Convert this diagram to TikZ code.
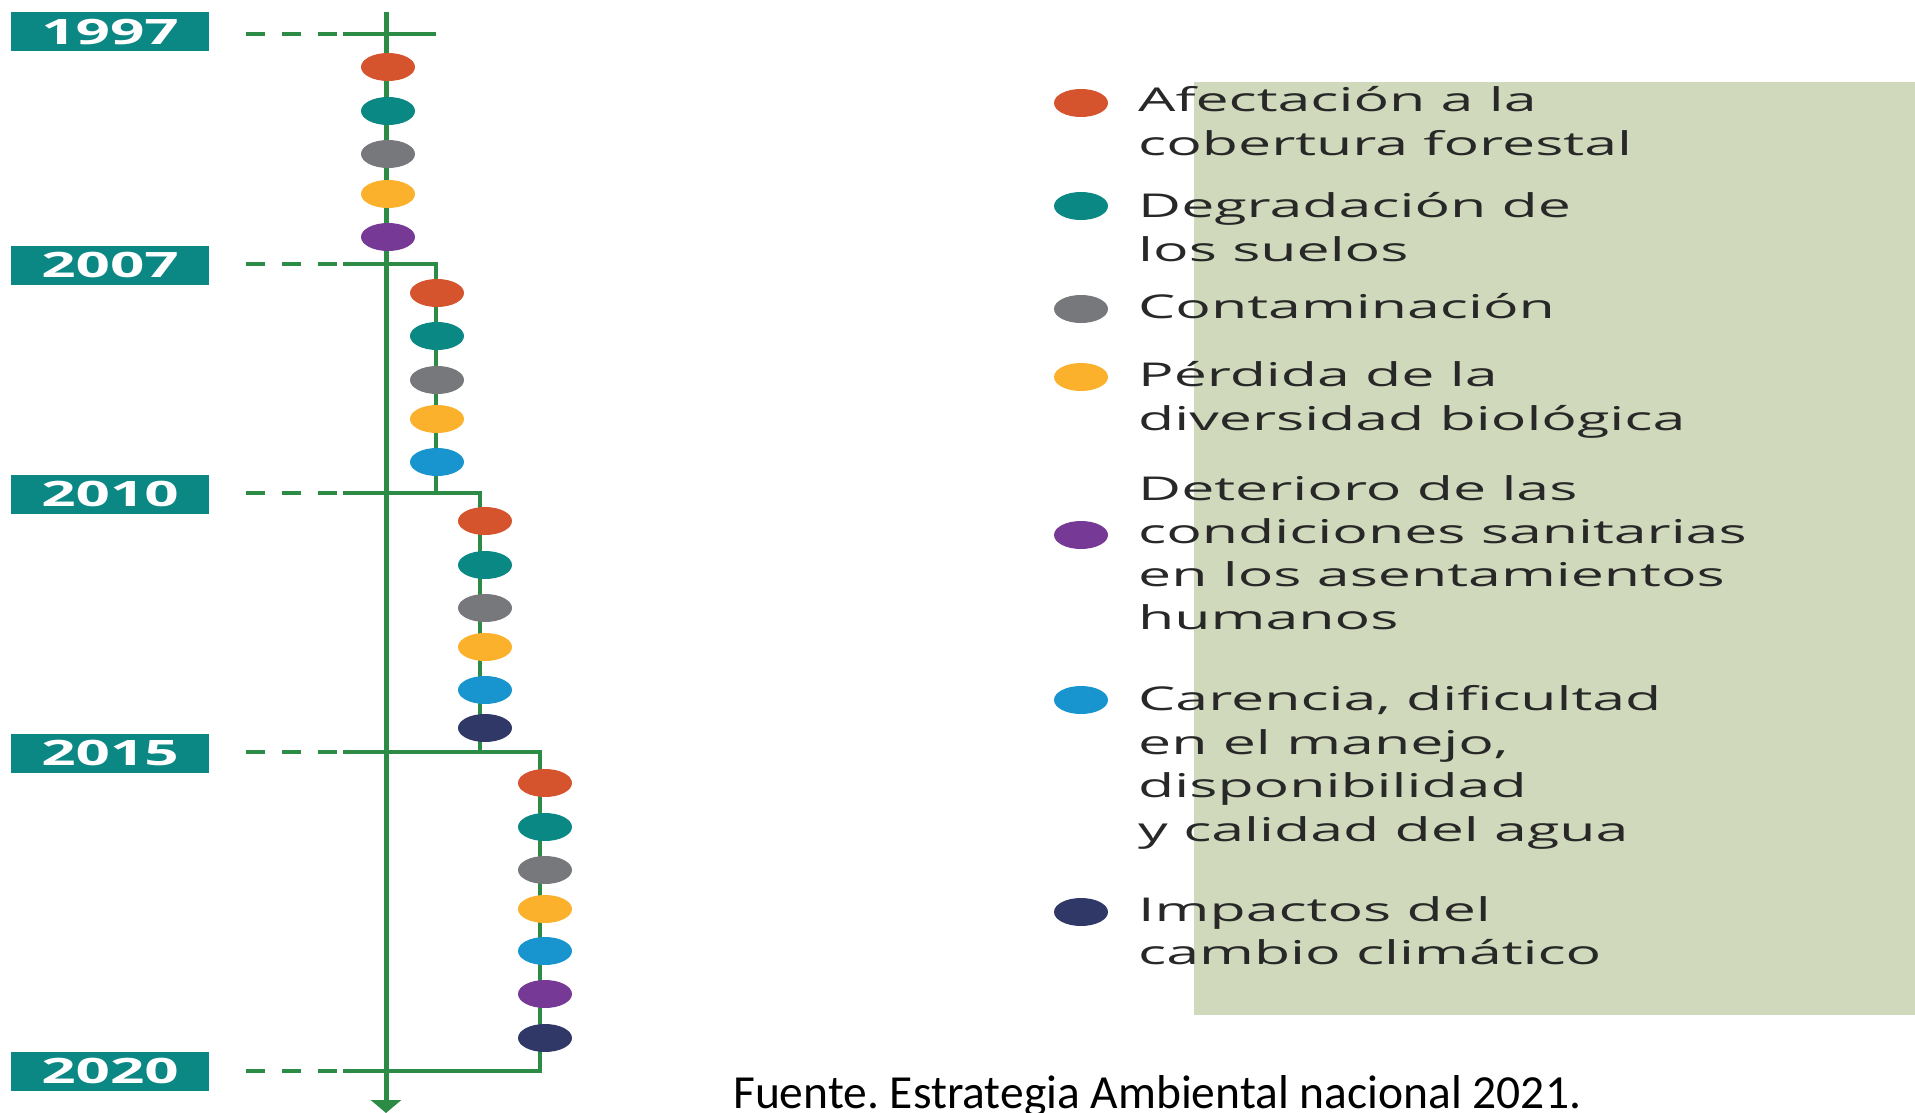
\documentclass[tikz,border=0pt]{standalone}
\usepackage{fontspec}
\usetikzlibrary{shapes.geometric,arrows.meta}
\newfontfamily\legfont[FakeStretch=1.8]{Open Sans}
\newfontfamily\yrfont[FakeStretch=1.72]{Open Sans}
\newfontfamily\srcfont{Carlito}
\definecolor{tlgreen}{RGB}{44,140,70}
\definecolor{boxteal}{RGB}{11,135,132}
\definecolor{cRed}{RGB}{213,83,45}
\definecolor{cTeal}{RGB}{10,136,132}
\definecolor{cGray}{RGB}{119,120,123}
\definecolor{cYellow}{RGB}{251,177,43}
\definecolor{cPurple}{RGB}{118,58,150}
\definecolor{cBlue}{RGB}{24,149,207}
\definecolor{cNavy}{RGB}{47,56,103}
\definecolor{bgGreen}{RGB}{209,217,188}
\definecolor{txtGray}{RGB}{40,40,40}
\begin{document}
\frenchspacing
\begin{tikzpicture}[x=1pt,y=-1pt,
  tl/.style={draw=tlgreen, line width=4.5pt, line join=miter},
  tlmain/.style={draw=tlgreen, line width=5pt},
  dashln/.style={draw=tlgreen, line width=4.5pt, dash pattern=on 19pt off 17pt},
  yearbox/.style={rectangle, fill=boxteal, minimum width=198pt, minimum height=39pt, inner sep=0pt, text=white, font=\yrfont\bfseries\fontsize{35}{35}\selectfont},
  blob/.style={ellipse, minimum width=54pt, minimum height=28pt, inner sep=0pt, fill=#1},
  legtext/.style={anchor=base west, inner sep=0pt, text=txtGray, font=\legfont\fontsize{32.8}{32.8}\selectfont}
]
\useasboundingbox (0,0) rectangle (1915,1113);
% background panel of legend
\fill[bgGreen] (1194,82) rectangle (1915,1015);

% year boxes
\node[yearbox] (y1997) at (110,32) {1997};
\node[yearbox] (y2007) at (110,265) {2007};
\node[yearbox] (y2010) at (110,494) {2010};
\node[yearbox] (y2015) at (110,753) {2015};
\node[yearbox] (y2020) at (110,1071) {2020};

% coordinates
\coordinate (top) at (386,12);
\coordinate (bot) at (386,1113);
\foreach \n/\y in {a/34,b/264,c/493,d/752,e/1071}{
  \coordinate (ds\n) at (246,\y);
  \coordinate (de\n) at (343,\y);
}
\coordinate (ra) at (436,34);
\coordinate (rb) at (436,264);
\coordinate (rbb) at (436,493);
\coordinate (rc) at (480,493);
\coordinate (rcc) at (480,752);
\coordinate (rd) at (540,752);
\coordinate (rdd) at (540,1071);

% dashed leaders
\foreach \n in {a,b,c,d,e}{ \draw[dashln] (ds\n) -- (de\n); }
% branches
\draw[tl] (dea) -- (ra);
\draw[tl] (deb) -- (rb) -- (rbb);
\draw[tl] (dec) -- (rc) -- (rcc);
\draw[tl] (ded) -- (rd) -- (rdd) -- (dee);
% main axis
\draw[tlmain, -{Triangle[width=30pt,length=13pt]}] (top) -- (bot);

% timeline dots
\node[blob=cRed]    (a1) at (388,67) {};
\node[blob=cTeal]   (a2) at (388,111) {};
\node[blob=cGray]   (a3) at (388,154) {};
\node[blob=cYellow] (a4) at (388,194) {};
\node[blob=cPurple] (a5) at (388,237) {};

\node[blob=cRed]    (b1) at (437,293) {};
\node[blob=cTeal]   (b2) at (437,336) {};
\node[blob=cGray]   (b3) at (437,380) {};
\node[blob=cYellow] (b4) at (437,419) {};
\node[blob=cBlue]   (b5) at (437,462) {};

\node[blob=cRed]    (c1) at (485,521) {};
\node[blob=cTeal]   (c2) at (485,565) {};
\node[blob=cGray]   (c3) at (485,608) {};
\node[blob=cYellow] (c4) at (485,647) {};
\node[blob=cBlue]   (c5) at (485,690) {};
\node[blob=cNavy]   (c6) at (485,728) {};

\node[blob=cRed]    (d1) at (545,783) {};
\node[blob=cTeal]   (d2) at (545,827) {};
\node[blob=cGray]   (d3) at (545,870) {};
\node[blob=cYellow] (d4) at (545,909) {};
\node[blob=cBlue]   (d5) at (545,951) {};
\node[blob=cPurple] (d6) at (545,994) {};
\node[blob=cNavy]   (d7) at (545,1038) {};

% legend dots
\node[blob=cRed]    (l1) at (1081,103) {};
\node[blob=cTeal]   (l2) at (1081,206) {};
\node[blob=cGray]   (l3) at (1081,309) {};
\node[blob=cYellow] (l4) at (1081,377) {};
\node[blob=cPurple] (l5) at (1081,535) {};
\node[blob=cBlue]   (l6) at (1081,700) {};
\node[blob=cNavy]   (l7) at (1081,912) {};

% legend text
\node[legtext] (t1a) at (1138,112) {Afectación a la};
\node[legtext] (t1b) at (1138,156) {cobertura forestal};
\node[legtext] (t2a) at (1138,217) {Degradación de};
\node[legtext] (t2b) at (1138,261) {los suelos};
\node[legtext] (t3a) at (1138,318) {Contaminación};
\node[legtext] (t4a) at (1138,386) {Pérdida de la};
\node[legtext] (t4b) at (1138,430) {diversidad biológica};
\node[legtext] (t5a) at (1138,500) {Deterioro de las};
\node[legtext] (t5b) at (1138,543) {condiciones sanitarias};
\node[legtext] (t5c) at (1138,586) {en los asentamientos};
\node[legtext] (t5d) at (1138,629) {humanos};
\node[legtext] (t6a) at (1138,710) {Carencia, dificultad};
\node[legtext] (t6b) at (1138,754) {en el manejo,};
\node[legtext] (t6c) at (1138,797) {disponibilidad};
\node[legtext] (t6d) at (1138,841) {y calidad del agua};
\node[legtext] (t7a) at (1138,921) {Impactos del};
\node[legtext] (t7b) at (1138,964) {cambio climático};

% source
\node[anchor=base west, inner sep=0pt, text=black, font=\srcfont\fontsize{47.5}{47.5}\selectfont] (src) at (733,1108) {Fuente. Estrategia Ambiental nacional 2021.};
\end{tikzpicture}
\end{document}
